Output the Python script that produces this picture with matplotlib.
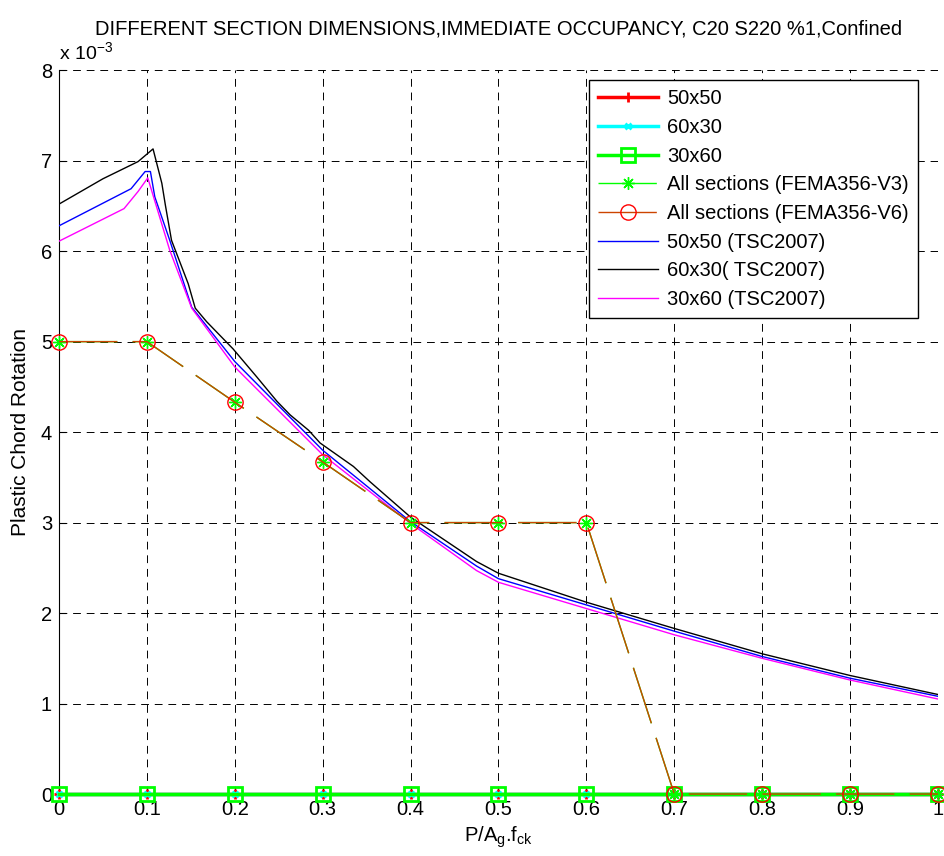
import matplotlib.pyplot as plt
import numpy as np

plt.rcParams['font.family'] = ['Liberation Sans', 'DejaVu Sans']

# axial load ratio P/Ag.fck
ratio = [0, 0.1, 0.2, 0.3, 0.4, 0.5, 0.6, 0.7, 0.8, 0.9, 1.0]

# analysis results (all zero)
sec_50x50 = [0, 0, 0, 0, 0, 0, 0, 0, 0, 0, 0]
sec_60x30 = [0, 0, 0, 0, 0, 0, 0, 0, 0, 0, 0]
sec_30x60 = [0, 0, 0, 0, 0, 0, 0, 0, 0, 0, 0]

# FEMA356 limits (x 1e-3)
fema_v3 = [5, 5, 4.33, 3.67, 3, 3, 3, 0, 0, 0, 0]
fema_v6 = [5, 5, 4.33, 3.67, 3, 3, 3, 0, 0, 0, 0]

# TSC2007 curves (x 1e-3)
tsc_50x50_x = [0, 0.082, 0.098, 0.104, 0.109, 0.126, 0.151, 0.2, 0.3, 0.4, 0.475, 0.5, 0.6, 0.7, 0.8, 0.9, 1.0]
tsc_50x50_y = [6.28, 6.69, 6.88, 6.88, 6.60, 6.12, 5.38, 4.78, 3.80, 3.01, 2.52, 2.38, 2.09, 1.80, 1.52, 1.28, 1.08]

tsc_60x30_x = [0, 0.05, 0.09, 0.107, 0.117, 0.121, 0.128, 0.147, 0.155, 0.168, 0.198, 0.225, 0.248, 0.263,
               0.284, 0.297, 0.335, 0.354, 0.4, 0.475, 0.5, 0.6, 0.7, 0.8, 0.9, 1.0]
tsc_60x30_y = [6.52, 6.80, 6.99, 7.13, 6.75, 6.51, 6.12, 5.64, 5.37, 5.22, 4.92, 4.61, 4.34, 4.19,
               4.02, 3.88, 3.62, 3.45, 3.06, 2.57, 2.44, 2.12, 1.83, 1.55, 1.31, 1.10]

tsc_30x60_x = [0, 0.074, 0.090, 0.101, 0.126, 0.151, 0.2, 0.3, 0.4, 0.475, 0.5, 0.6, 0.7, 0.8, 0.9, 1.0]
tsc_30x60_y = [6.11, 6.47, 6.66, 6.81, 6.01, 5.37, 4.72, 3.75, 2.99, 2.47, 2.34, 2.05, 1.76, 1.50, 1.26, 1.05]

fig = plt.figure(figsize=(9.44, 8.56), dpi=100)
ax = fig.add_axes([0.0625, 0.0724, 0.9311, 0.8456])

long_dash = (0, (42, 11))

ax.plot(tsc_50x50_x, tsc_50x50_y, color='blue', lw=1, label='50x50 (TSC2007)', zorder=4)
ax.plot(tsc_60x30_x, tsc_60x30_y, color='black', lw=1, label='60x30( TSC2007)', zorder=4)
ax.plot(tsc_30x60_x, tsc_30x60_y, color='magenta', lw=1, label='30x60 (TSC2007)', zorder=4)

# zero results, 30x60 ends up on top
ax.plot(ratio, sec_50x50, color='red', lw=2.5, marker='+', ms=7, mew=2, label='50x50',
        zorder=5, clip_on=False)
ax.plot(ratio, sec_60x30, color='cyan', lw=2.5, marker='x', ms=5, mew=2, label='60x30',
        zorder=6, clip_on=False)
ax.plot(ratio, sec_30x60, color='#00ff00', lw=2.5, marker='s', ms=10, mfc='none', mew=2,
        label='30x60', zorder=7, clip_on=False)

# FEMA limits drawn over the zero lines
ax.plot(ratio, fema_v3, color='#00ff00', lw=1, linestyle=long_dash, marker=(8, 2, 0), ms=9,
        label='All sections (FEMA356-V3)', zorder=8, clip_on=False)
ax.plot(ratio, fema_v6, color='#cc4400', lw=1, linestyle=long_dash, marker='o', ms=11,
        mfc='none', mec='red', label='All sections (FEMA356-V6)', zorder=8, clip_on=False)

# legend in MATLAB order
handles, labels = ax.get_legend_handles_labels()
order = ['50x50', '60x30', '30x60', 'All sections (FEMA356-V3)', 'All sections (FEMA356-V6)',
         '50x50 (TSC2007)', '60x30( TSC2007)', '30x60 (TSC2007)']
hmap = dict(zip(labels, handles))
leg = ax.legend([hmap[k] for k in order], order, loc='upper right', bbox_to_anchor=(0.977, 0.986),
                borderaxespad=0, fontsize=14.5, frameon=True, fancybox=False, edgecolor='black',
                framealpha=1, handlelength=3.0, labelspacing=0.48, borderpad=0.45,
                handletextpad=0.45, numpoints=1)
leg.get_frame().set_linewidth(1)
leg.set_zorder(10)

ax.set_xlim(0, 1)
ax.set_ylim(0, 8)
ax.set_xticks(np.arange(0, 1.01, 0.1))
ax.set_xticklabels(['0', '0.1', '0.2', '0.3', '0.4', '0.5', '0.6', '0.7', '0.8', '0.9', '1'])
ax.set_yticks(range(0, 9))
ax.tick_params(direction='in', length=5, labelsize=14.5, width=0.8)
ax.tick_params(axis='x', pad=4)
ax.tick_params(axis='y', pad=5)
ax.spines['top'].set_visible(False)
ax.spines['right'].set_visible(False)
ax.grid(True, color='black', linestyle=(0, (8, 6)), linewidth=0.7)
ax.set_axisbelow(True)

ax.text(0, 1.008, r'x 10$^{\mathregular{-3}}$', transform=ax.transAxes, fontsize=14,
        ha='left', va='bottom')
ax.set_title('DIFFERENT SECTION DIMENSIONS,IMMEDIATE OCCUPANCY, C20 S220 %1,Confined',
             fontsize=14.5, pad=26)
ax.set_xlabel(r'P/A$_\mathregular{g}$.f$_\mathregular{ck}$', fontsize=14.5, labelpad=4)
ax.set_ylabel('Plastic Chord Rotation', fontsize=15, labelpad=8)

fig.savefig('out.png', dpi=100)
